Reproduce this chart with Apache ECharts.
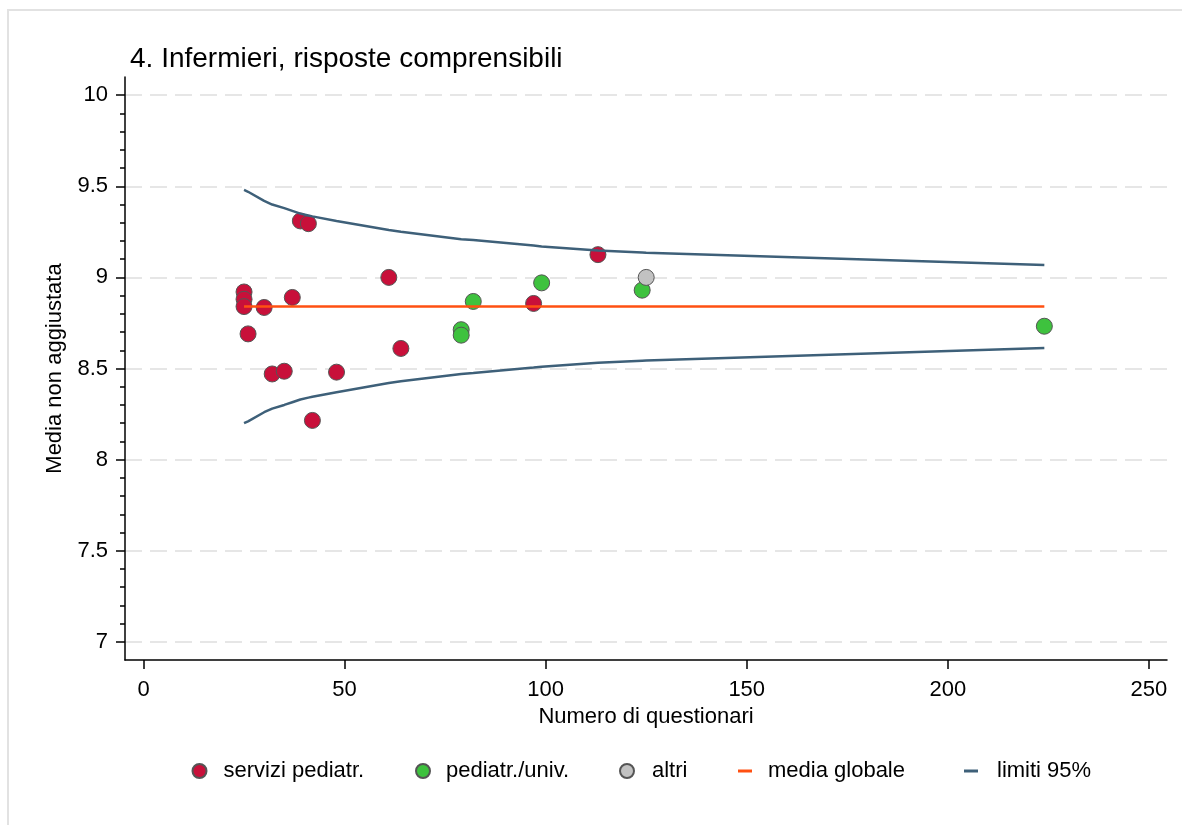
<!DOCTYPE html>
<html>
<head>
<meta charset="utf-8">
<script src="https://cdn.jsdelivr.net/npm/echarts@6/dist/echarts.min.js"></script>
<style>
  html, body { margin: 0; padding: 0; background: #fff; }
  #chart { width: 1182px; height: 825px; }
</style>
</head>
<body>
<div id="chart"></div>
<script>
// Funnel plot: mean score per unit vs number of questionnaires
const titleText = '4. Infermieri, risposte comprensibili';
const xName = 'Numero di questionari';
const yName = 'Media non aggiustata';

const xTicks = [0, 50, 100, 150, 200, 250];
const yTicks = [7, 7.5, 8, 8.5, 9, 9.5, 10];
const yMinorTicks = [7.1, 7.2, 7.3, 7.4, 7.6, 7.7, 7.8, 7.9, 8.1, 8.2, 8.3, 8.4,
  8.6, 8.7, 8.8, 8.9, 9.1, 9.2, 9.3, 9.4, 9.6, 9.7, 9.8, 9.9];

// servizi pediatr.
const serviziN = [25, 25, 25, 26, 30, 32, 35, 37, 39, 41, 42, 48, 61, 64, 97, 113];
const serviziY = [8.92, 8.88, 8.84, 8.69, 8.835, 8.47, 8.485, 8.89, 9.31, 9.295, 8.215, 8.48, 9.0, 8.61, 8.857, 9.125];

// pediatr./univ.
const pediatrN = [79, 79, 82, 99, 124, 224];
const pediatrY = [8.713, 8.683, 8.868, 8.97, 8.93, 8.732];

// altri
const altriN = [125];
const altriY = [9.0];

// media globale
const mediaN = [25, 224];
const mediaY = [8.84, 8.84];

// limiti 95%
const limN = [25, 26, 30, 32, 35, 37, 39, 41, 42, 48, 61, 64, 79, 82, 97, 99, 113, 124, 125, 224];
const limUpper = [9.48, 9.47, 9.42, 9.40, 9.38, 9.365, 9.35, 9.34, 9.335, 9.31, 9.26, 9.25,
  9.21, 9.205, 9.175, 9.17, 9.148, 9.137, 9.136, 9.068];
const limLower = [8.20, 8.21, 8.26, 8.28, 8.30, 8.315, 8.33, 8.34, 8.345, 8.37, 8.42, 8.43,
  8.47, 8.475, 8.505, 8.51, 8.532, 8.543, 8.544, 8.612];

const zip = (a, b) => a.map((v, i) => [v, b[i]]);

const FONT = "'Liberation Sans', Arial, Helvetica, sans-serif";
const FS = 22;
const C_RED = '#c8103a';
const C_GREEN = '#3ec23e';
const C_GRAY = '#c2c2c2';
const C_ORANGE = '#ff5012';
const C_BLUE = '#3e6079';
const C_EDGE = '#555555';

const legendText = { color: '#000', fontSize: FS, fontFamily: FONT };
function legendItem(name, left, icon, w, h, pad) {
  return {
    data: [{ name: name, icon: icon }],
    left: left, top: 760, padding: 0,
    itemWidth: w, itemHeight: h,
    selectedMode: false,
    textStyle: Object.assign({ padding: [0, 0, 0, pad] }, legendText)
  };
}

const option = {
  backgroundColor: '#fff',
  animation: false,
  graphic: [{
    type: 'rect', silent: true, z: -10,
    shape: { x: 8, y: 10, width: 1300, height: 1000 },
    style: { fill: 'none', stroke: '#e2e2e2', lineWidth: 2 }
  }],
  title: {
    text: titleText, left: 130, top: 45, padding: 0,
    textStyle: { color: '#000', fontSize: 28, fontWeight: 'normal', fontFamily: FONT }
  },
  legend: [
    legendItem('servizi pediatr.', 191.5, 'circle', 14, 14, 12),
    legendItem('pediatr./univ.', 415, 'circle', 14, 14, 11),
    legendItem('altri', 619, 'circle', 14, 14, 13),
    legendItem('media globale', 738, 'rect', 14, 3, 11),
    legendItem('limiti 95%', 964, 'rect', 14, 3, 14)
  ],
  grid: { left: 125, right: 15, top: 77, bottom: 165, containLabel: false },
  xAxis: {
    type: 'value', min: -4.6, max: 254.5,
    name: xName, nameLocation: 'middle', nameGap: 42,
    nameTextStyle: { color: '#000', fontSize: FS, fontFamily: FONT },
    axisLine: { show: true, onZero: false, lineStyle: { color: '#000', width: 1.5 } },
    axisTick: { show: true, length: 9, customValues: xTicks, lineStyle: { color: '#000', width: 1.5 } },
    axisLabel: { customValues: xTicks, margin: 19, color: '#000', fontSize: FS, fontFamily: FONT },
    splitLine: { show: false }
  },
  yAxis: [{
    type: 'value', min: 6.9, max: 10.1,
    name: yName, nameLocation: 'middle', nameGap: 59, nameRotate: 90,
    nameTextStyle: { color: '#000', fontSize: FS, fontFamily: FONT },
    axisLine: { show: true, onZero: false, lineStyle: { color: '#000', width: 1.5 } },
    axisTick: { show: true, length: 9, customValues: yTicks, lineStyle: { color: '#000', width: 1.5 } },
    axisLabel: { customValues: yTicks, margin: 17, color: '#000', fontSize: FS, fontFamily: FONT,
      formatter: v => String(v) },
    splitLine: { show: true, lineStyle: { color: '#dedede', width: 1.5, type: [17, 8] } }
  }, {
    type: 'value', min: 6.9, max: 10.1, position: 'left', offset: 0,
    axisLine: { show: false, onZero: false },
    axisTick: { show: true, length: 5, customValues: yMinorTicks, lineStyle: { color: '#000', width: 1.5 } },
    axisLabel: { show: false },
    splitLine: { show: false }
  }],
  series: [
    {
      name: 'servizi pediatr.', type: 'scatter', data: zip(serviziN, serviziY),
      symbol: 'circle', symbolSize: 16, z: 2,
      itemStyle: { color: C_RED, borderColor: C_EDGE, borderWidth: 1, opacity: 1 }
    },
    {
      name: 'pediatr./univ.', type: 'scatter', data: zip(pediatrN, pediatrY),
      symbol: 'circle', symbolSize: 16, z: 2,
      itemStyle: { color: C_GREEN, borderColor: C_EDGE, borderWidth: 1, opacity: 1 }
    },
    {
      name: 'altri', type: 'scatter', data: zip(altriN, altriY),
      symbol: 'circle', symbolSize: 16, z: 2,
      itemStyle: { color: C_GRAY, borderColor: C_EDGE, borderWidth: 1, opacity: 1 }
    },
    {
      name: 'media globale', type: 'line', data: zip(mediaN, mediaY),
      showSymbol: false, symbol: 'none', z: 3,
      itemStyle: { color: C_ORANGE },
      lineStyle: { color: C_ORANGE, width: 2.5 }
    },
    {
      name: 'limiti 95%', type: 'line', data: zip(limN, limUpper),
      showSymbol: false, symbol: 'none', z: 3,
      itemStyle: { color: C_BLUE },
      lineStyle: { color: C_BLUE, width: 2.5 }
    },
    {
      name: 'limiti 95%', type: 'line', data: zip(limN, limLower),
      showSymbol: false, symbol: 'none', z: 3,
      itemStyle: { color: C_BLUE },
      lineStyle: { color: C_BLUE, width: 2.5 }
    }
  ]
};

const chart = echarts.init(document.getElementById('chart'), null, { renderer: 'canvas' });
chart.setOption(option);
</script>
</body>
</html>
